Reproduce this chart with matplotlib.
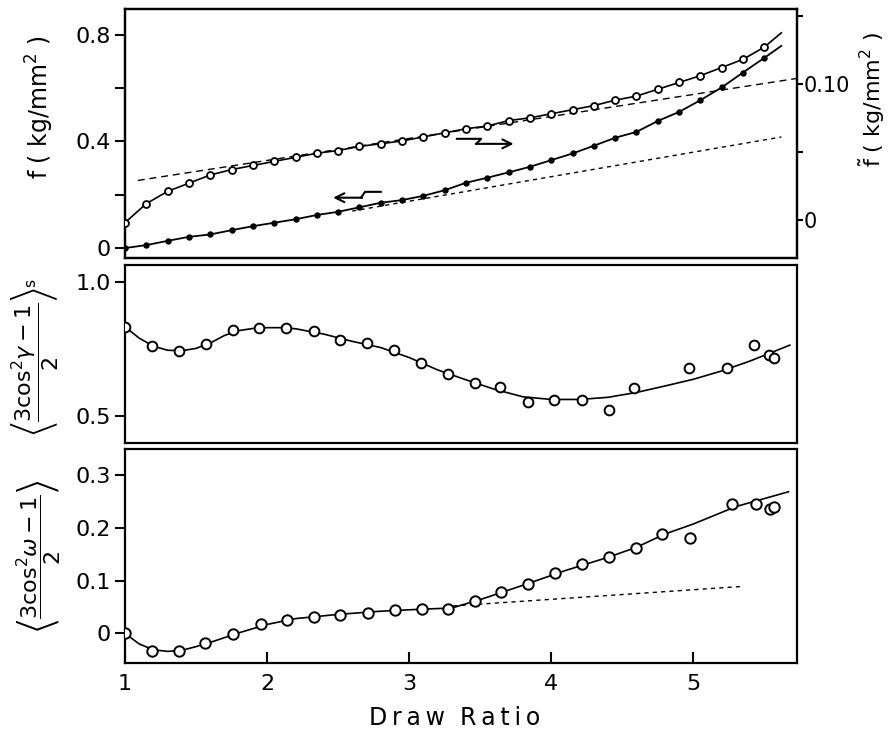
import matplotlib
matplotlib.use("Agg")
import matplotlib.pyplot as plt
from matplotlib.ticker import FixedLocator

# ---------------------------------------------------------------------
# data
# ---------------------------------------------------------------------

# top panel: draw ratio of the stress points
x_top = [1.00, 1.15, 1.30, 1.45, 1.60, 1.75, 1.90, 2.05, 2.20, 2.35, 2.50,
         2.65, 2.80, 2.95, 3.10, 3.25, 3.40, 3.55, 3.70, 3.85, 4.00, 4.15,
         4.30, 4.45, 4.60, 4.75, 4.90, 5.05, 5.20, 5.35, 5.50]

# f (kg/mm2), filled dots, left axis
f_vals = [0.000, 0.011, 0.027, 0.042, 0.051, 0.067, 0.082, 0.095, 0.108,
          0.124, 0.136, 0.153, 0.170, 0.180, 0.196, 0.217, 0.245, 0.264,
          0.284, 0.305, 0.330, 0.355, 0.384, 0.414, 0.436, 0.477, 0.511,
          0.555, 0.603, 0.659, 0.714]
f_end = (5.62, 0.759)

# f-tilde (kg/mm2), open circles, right axis
ft_vals = [-0.002, 0.012, 0.021, 0.027, 0.033, 0.037, 0.040, 0.043, 0.046,
           0.049, 0.051, 0.054, 0.056, 0.058, 0.061, 0.064, 0.067, 0.069,
           0.073, 0.075, 0.078, 0.081, 0.084, 0.088, 0.091, 0.096, 0.101,
           0.106, 0.112, 0.118, 0.127]
ft_end = (5.62, 0.1375)

# straight dashed lines in the top panel
ft_line_x = [1.09, 5.73]
ft_line_y = [0.029, 0.104]
f_line_x = [2.60, 5.62]
f_line_y = [0.139, 0.417]

# middle panel: <(3cos^2 gamma - 1)/2>_s
x_mid = [1.00, 1.19, 1.38, 1.57, 1.76, 1.94, 2.13, 2.33, 2.51, 2.70, 2.89,
         3.08, 3.27, 3.46, 3.64, 3.84, 4.02, 4.22, 4.41, 4.58, 4.97, 5.24,
         5.43, 5.53, 5.57]
y_mid = [0.832, 0.762, 0.743, 0.768, 0.820, 0.827, 0.829, 0.816, 0.783,
         0.773, 0.746, 0.696, 0.656, 0.624, 0.609, 0.551, 0.560, 0.560,
         0.522, 0.605, 0.680, 0.680, 0.764, 0.727, 0.715]
mid_curve_x = [1.0, 1.1, 1.2, 1.3, 1.4, 1.5, 1.6, 1.7, 1.8, 1.9, 2.0, 2.1,
               2.2, 2.4, 2.6, 2.8, 3.0, 3.2, 3.4, 3.6, 3.8, 4.0, 4.2, 4.4,
               4.6, 4.8, 5.0, 5.2, 5.4, 5.68]
mid_curve_y = [0.832, 0.790, 0.760, 0.745, 0.743, 0.752, 0.772, 0.800,
               0.818, 0.826, 0.829, 0.829, 0.825, 0.805, 0.778, 0.755,
               0.718, 0.672, 0.635, 0.600, 0.572, 0.562, 0.562, 0.570,
               0.588, 0.612, 0.637, 0.668, 0.705, 0.764]

# bottom panel: <(3cos^2 omega - 1)/2>
x_bot = [1.00, 1.19, 1.38, 1.56, 1.76, 1.96, 2.14, 2.33, 2.51, 2.71, 2.90,
         3.09, 3.27, 3.46, 3.65, 3.84, 4.03, 4.22, 4.41, 4.60, 4.78, 4.98,
         5.27, 5.44, 5.54, 5.57]
y_bot = [0.000, -0.033, -0.033, -0.019, -0.001, 0.017, 0.026, 0.031, 0.034,
         0.039, 0.045, 0.046, 0.046, 0.061, 0.078, 0.094, 0.114, 0.132,
         0.144, 0.161, 0.189, 0.181, 0.244, 0.244, 0.236, 0.239]
bot_curve_x = [1.0, 1.1, 1.2, 1.3, 1.4, 1.5, 1.6, 1.8, 2.0, 2.2, 2.5, 2.8,
               3.1, 3.3, 3.5, 3.8, 4.1, 4.4, 4.6, 4.8, 5.0, 5.3, 5.67]
bot_curve_y = [0.000, -0.020, -0.031, -0.034, -0.032, -0.025, -0.017,
               0.001, 0.017, 0.028, 0.036, 0.042, 0.046, 0.048, 0.064,
               0.091, 0.119, 0.144, 0.163, 0.188, 0.207, 0.240, 0.268]
bot_line_x = [3.31, 5.35]
bot_line_y = [0.052, 0.089]

x_ticks = [1, 2, 3, 4, 5]

# ---------------------------------------------------------------------
# figure
# ---------------------------------------------------------------------

plt.rcParams["font.family"] = "DejaVu Sans"
plt.rcParams["font.size"] = 16

fig = plt.figure(figsize=(8.88, 7.37), dpi=100)

L, W = 0.1408, 0.7567
ax_top = fig.add_axes([L, 0.6499, W, 0.3379])
ax_mid = fig.add_axes([L, 0.3989, W, 0.2415])
ax_bot = fig.add_axes([L, 0.1004, W, 0.2904])

for ax in (ax_top, ax_mid, ax_bot):
    ax.set_xlim(1.0, 5.73)
    for s in ax.spines.values():
        s.set_linewidth(1.6)
    ax.tick_params(axis="y", direction="out", length=7, width=1.5,
                   labelsize=16, pad=3)
    ax.tick_params(axis="y", which="minor", direction="out", length=7,
                   width=1.5)
    ax.tick_params(axis="x", bottom=False, labelbottom=False)

# ---- top panel ----
ax_top.set_ylim(-0.0375, 0.8975)
ax_top.yaxis.set_major_locator(FixedLocator([0, 0.4, 0.8]))
ax_top.yaxis.set_minor_locator(FixedLocator([0.2, 0.6]))
ax_top.set_yticklabels(["0", "0.4", "0.8"])

ax_r = ax_top.twinx()
ax_r.set_position([L, 0.6499, W, 0.3379])
ax_r.set_ylim(-0.028, 0.155)
ax_r.yaxis.set_major_locator(FixedLocator([0, 0.10]))
ax_r.yaxis.set_minor_locator(FixedLocator([0.05, 0.15]))
ax_r.set_yticklabels(["0", "0.10"])
ax_r.tick_params(axis="y", which="both", direction="out", length=4,
                 width=1.5, labelsize=15, pad=1)
for s in ax_r.spines.values():
    s.set_linewidth(1.6)

ax_top.plot(x_top + [f_end[0]], f_vals + [f_end[1]], color="black", lw=1.3,
            zorder=2)
ax_top.plot(x_top, f_vals, "o", color="black", ms=3.6, zorder=3)
ax_top.plot(f_line_x, f_line_y, color="black", lw=1.0, dashes=(3, 3))

ax_r.plot(x_top + [ft_end[0]], ft_vals + [ft_end[1]], color="black", lw=1.2,
          zorder=2)
ax_r.plot(x_top, ft_vals, "o", mfc="white", mec="black", mew=1.3, ms=5,
          zorder=3)
ax_r.plot(ft_line_x, ft_line_y, color="black", lw=1.0, dashes=(5, 3.5))

# arrows telling which axis each curve belongs to
ax_top.plot([2.66, 2.69, 2.80], [0.189, 0.211, 0.211], color="black", lw=1.5)
ax_top.annotate("", xy=(2.465, 0.189), xytext=(2.67, 0.189),
                arrowprops=dict(arrowstyle="->", lw=1.5, color="black",
                                shrinkA=0, shrinkB=0))
ax_r.plot([3.336, 3.507, 3.472], [0.0596, 0.0596, 0.0559], color="black",
          lw=1.5)
ax_r.annotate("", xy=(3.735, 0.0559), xytext=(3.47, 0.0559),
              arrowprops=dict(arrowstyle="->", lw=1.5, color="black",
                              shrinkA=0, shrinkB=0))

# ---- middle panel ----
ax_mid.set_ylim(0.40, 1.062)
ax_mid.yaxis.set_major_locator(FixedLocator([0.5, 1.0]))
ax_mid.set_yticklabels(["0.5", "1.0"])
ax_mid.plot(mid_curve_x, mid_curve_y, color="black", lw=1.2, zorder=2)
ax_mid.plot(x_mid, y_mid, "o", mfc="white", mec="black", mew=1.4, ms=7,
            zorder=3)

# ---- bottom panel ----
ax_bot.set_ylim(-0.056, 0.349)
ax_bot.yaxis.set_major_locator(FixedLocator([0, 0.1, 0.2, 0.3]))
ax_bot.set_yticklabels(["0", "0.1", "0.2", "0.3"])
ax_bot.plot(bot_curve_x, bot_curve_y, color="black", lw=1.2, zorder=2)
ax_bot.plot(bot_line_x, bot_line_y, color="black", lw=1.0, dashes=(3, 3))
ax_bot.plot(x_bot, y_bot, "o", mfc="white", mec="black", mew=1.4, ms=7.5,
            zorder=3)
ax_bot.xaxis.set_major_locator(FixedLocator(x_ticks))
ax_bot.set_xticklabels([str(t) for t in x_ticks])
ax_bot.tick_params(axis="x", bottom=True, labelbottom=True, direction="in",
                   length=8, width=1.5, labelsize=16, pad=8)

# ---- axis titles ----
fig.text(0.045, 0.855, r"f ( kg/mm$^2$ )", rotation=90, ha="center",
         va="center", fontsize=17)
fig.text(0.982, 0.865, r"$\tilde{\mathrm{f}}$ ( kg/mm$^2$ )", rotation=90,
         ha="center", va="center", fontsize=16)
fig.text(0.040, 0.515,
         r"$\left\langle\dfrac{3\mathrm{cos}^2\gamma-1}{2}\right\rangle^{\mathrm{s}}$",
         rotation=90, ha="center", va="center", fontsize=16)
fig.text(0.043, 0.245,
         r"$\left\langle\dfrac{3\mathrm{cos}^2\omega-1}{2}\right\rangle$",
         rotation=90, ha="center", va="center", fontsize=16)
fig.text(0.512, 0.026, "D\u2009r\u2009a\u2009w  R\u2009a\u2009t\u2009i\u2009o",
         ha="center", va="center", fontsize=17)

fig.savefig("out.png", dpi=100)
